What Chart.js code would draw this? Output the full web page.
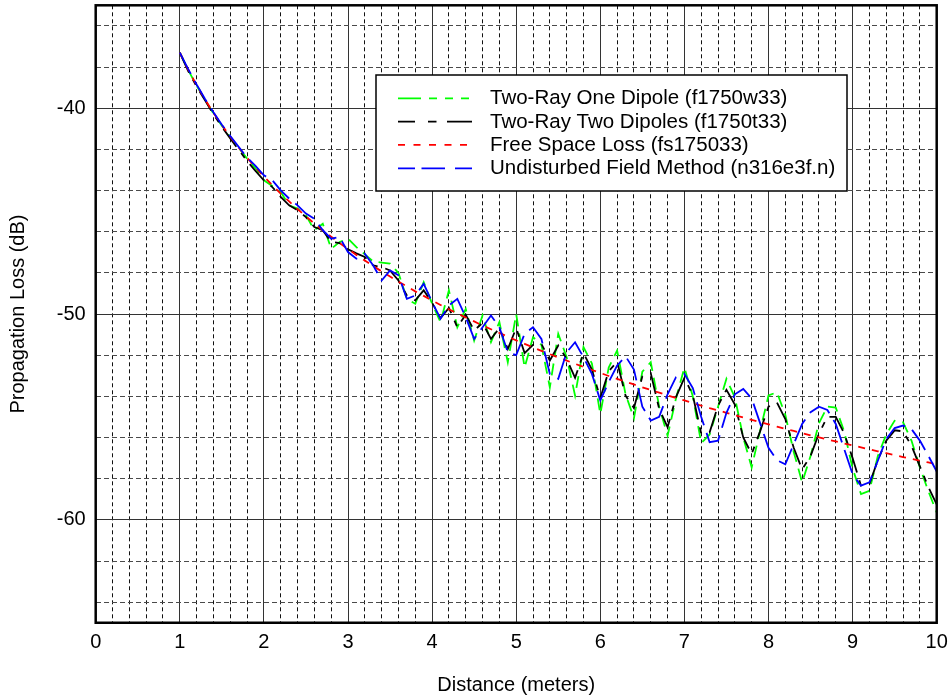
<!DOCTYPE html>
<html>
<head>
<meta charset="utf-8">
<title>Propagation Loss vs Distance</title>
<script src="https://cdn.jsdelivr.net/npm/chart.js"></script>
<style>
  html, body { margin: 0; padding: 0; background: #ffffff; }
  #wrap { width: 952px; height: 697px; position: relative; }
</style>
</head>
<body>
<div id="wrap"><canvas id="chart"></canvas></div>
<script>
// Distance from the transmitter (meters), sampled every 0.1 m
const distance = [
  1.0, 1.1, 1.2, 1.3, 1.4, 1.5, 1.6, 1.7, 1.8, 1.9,
  2.0, 2.1, 2.2, 2.3, 2.4, 2.5, 2.6, 2.7, 2.8, 2.9,
  3.0, 3.1, 3.2, 3.3, 3.4, 3.5, 3.6, 3.7, 3.8, 3.9,
  4.0, 4.1, 4.2, 4.3, 4.4, 4.5, 4.6, 4.7, 4.8, 4.9,
  5.0, 5.1, 5.2, 5.3, 5.4, 5.5, 5.6, 5.7, 5.8, 5.9,
  6.0, 6.1, 6.2, 6.3, 6.4, 6.5, 6.6, 6.7, 6.8, 6.9,
  7.0, 7.1, 7.2, 7.3, 7.4, 7.5, 7.6, 7.7, 7.8, 7.9,
  8.0, 8.1, 8.2, 8.3, 8.4, 8.5, 8.6, 8.7, 8.8, 8.9,
  9.0, 9.1, 9.2, 9.3, 9.4, 9.5, 9.6, 9.7, 9.8, 9.9,
  10.0
];

// Two-Ray One Dipole (f1750w33), dB
const oneDipole = [
  -37.30, -38.15, -38.90, -39.60, -40.25, -40.85, -41.40, -41.92, -42.45, -42.92,
  -43.50, -43.78, -44.07, -44.72, -44.88, -45.20, -45.93, -45.61, -46.83, -46.50,
  -46.34, -46.75, -47.10, -47.45, -47.50, -47.55, -48.00, -49.26, -49.50, -48.45,
  -49.50, -50.39, -48.85, -50.64, -49.75, -51.29, -50.07, -51.37, -50.39, -52.34,
  -50.00, -52.60, -51.12, -51.50, -53.56, -50.96, -52.10, -53.96, -51.61, -52.40,
  -54.86, -52.60, -51.77, -53.90, -55.06, -52.80, -52.34, -54.50, -55.91, -54.10,
  -52.60, -54.00, -56.27, -55.85, -54.50, -53.15, -54.05, -56.00, -57.45, -55.67,
  -53.96, -53.80, -54.90, -56.70, -58.18, -56.90, -55.30, -54.50, -54.55, -55.70,
  -57.50, -58.75, -58.59, -56.90, -55.85, -55.18, -55.26, -56.15, -57.45, -58.60,
  -59.64
];

// Two-Ray Two Dipoles (f1750t33), dB
const twoDipoles = [
  -37.30, -38.20, -38.95, -39.62, -40.30, -40.90, -41.47, -42.02, -42.56, -43.05,
  -43.50, -43.83, -44.31, -44.72, -44.96, -45.29, -45.77, -45.93, -46.50, -46.55,
  -46.85, -47.05, -47.23, -47.64, -47.72, -47.88, -48.37, -49.10, -49.34, -48.85,
  -49.45, -50.20, -49.70, -50.64, -50.03, -50.80, -50.43, -51.21, -50.68, -51.70,
  -50.68, -51.90, -51.50, -51.45, -52.26, -51.53, -52.18, -53.10, -51.90, -52.70,
  -54.08, -52.78, -52.32, -53.96, -54.57, -53.03, -52.87, -54.61, -55.50, -54.04,
  -53.10, -53.95, -55.80, -55.75, -54.45, -53.68, -54.40, -56.00, -56.80, -55.70,
  -54.50, -54.30, -55.10, -56.50, -57.55, -56.90, -55.80, -55.00, -55.00, -55.80,
  -57.00, -58.34, -58.26, -57.10, -56.15, -55.65, -55.70, -56.40, -57.40, -58.40,
  -59.25
];

// Free Space Loss (fs175033), dB
const freeSpace = [
  -37.30, -38.13, -38.88, -39.58, -40.22, -40.82, -41.38, -41.91, -42.41, -42.88,
  -43.32, -43.74, -44.15, -44.53, -44.90, -45.26, -45.60, -45.93, -46.24, -46.55,
  -46.84, -47.13, -47.40, -47.67, -47.93, -48.18, -48.43, -48.66, -48.90, -49.12,
  -49.34, -49.56, -49.77, -49.97, -50.17, -50.36, -50.56, -50.74, -50.92, -51.10,
  -51.28, -51.45, -51.62, -51.79, -51.95, -52.11, -52.26, -52.42, -52.57, -52.72,
  -52.86, -53.01, -53.15, -53.29, -53.42, -53.56, -53.69, -53.82, -53.95, -54.08,
  -54.20, -54.33, -54.45, -54.57, -54.68, -54.80, -54.92, -55.03, -55.14, -55.25,
  -55.36, -55.47, -55.58, -55.68, -55.79, -55.89, -55.99, -56.09, -56.19, -56.29,
  -56.38, -56.48, -56.58, -56.67, -56.76, -56.85, -56.95, -57.04, -57.12, -57.21,
  -57.30
];

// Undisturbed Field Method (n316e3f.n), dB
const undisturbed = [
  -37.30, -38.10, -38.85, -39.55, -40.20, -40.80, -41.35, -41.88, -42.40, -42.80,
  -43.26, -43.50, -43.99, -44.39, -44.72, -45.12, -45.37, -45.93, -46.34, -46.26,
  -46.99, -47.31, -47.07, -47.64, -48.37, -47.88, -48.12, -49.26, -49.10, -48.53,
  -49.42, -50.23, -49.58, -49.26, -50.15, -51.21, -50.64, -50.07, -50.64, -51.85,
  -52.00, -50.96, -50.64, -51.21, -52.91, -53.15, -51.86, -51.37, -52.10, -52.91,
  -54.20, -53.30, -52.50, -52.05, -52.70, -54.50, -55.18, -55.00, -53.90, -53.07,
  -52.91, -53.60, -55.00, -56.23, -56.15, -54.80, -53.90, -53.64, -54.10, -55.30,
  -56.50, -57.10, -57.30, -56.32, -55.34, -54.77, -54.50, -54.66, -55.34, -56.56,
  -57.78, -58.34, -58.18, -57.13, -56.07, -55.54, -55.42, -55.59, -56.15, -56.88,
  -57.65
];

const seriesNames = [
  'Two-Ray One Dipole (f1750w33)',
  'Two-Ray Two Dipoles (f1750t33)',
  'Free Space Loss (fs175033)',
  'Undisturbed Field Method (n316e3f.n)'
];

// Axis ticks: labelled major ticks plus minor grid steps
const xMajorTicks = [0, 1, 2, 3, 4, 5, 6, 7, 8, 9, 10];
const xTickLabels = ['0', '1', '2', '3', '4', '5', '6', '7', '8', '9', '10'];
const yMajorTicks = [-60, -50, -40];
const yTickLabels = ['-60', '-50', '-40'];
const xMinorStep = 0.2;
const yMinorStep = 2;

const FONT = "'Liberation Sans', Arial, Helvetica, sans-serif";
Chart.defaults.font.family = FONT;
Chart.defaults.font.size = 20;
Chart.defaults.color = '#000';

function gridValues(min, max, step) {
  const n = Math.round((max - min) / step);
  const out = [];
  for (let i = 0; i <= n; i++) out.push(+(min + i * step).toFixed(6));
  return out;
}
const xGrid = gridValues(0, 10, xMinorStep);
const yGrid = gridValues(-64, -36, yMinorStep);

const isMajorX = v => xMajorTicks.includes(v);
const isMajorY = v => yMajorTicks.includes(v);

function toPoints(values) {
  return distance.map((d, i) => ({ x: d, y: values[i] }));
}

// Heavy frame around the plotting area
const framePlugin = {
  id: 'plotFrame',
  afterDatasetsDraw(chart) {
    const { ctx, chartArea: a } = chart;
    ctx.save();
    ctx.strokeStyle = '#000';
    ctx.lineWidth = 2.5;
    ctx.setLineDash([]);
    ctx.strokeRect(a.left, a.top, a.right - a.left, a.bottom - a.top);
    ctx.restore();
  }
};

// Boxed legend placed inside the plotting area
const boxLegendPlugin = {
  id: 'boxLegend',
  afterDraw(chart, args, o) {
    const ctx = chart.ctx;
    ctx.save();
    ctx.fillStyle = '#fff';
    ctx.fillRect(o.left, o.top, o.width, o.height);
    ctx.strokeStyle = '#000';
    ctx.lineWidth = 1.5;
    ctx.setLineDash([]);
    ctx.strokeRect(o.left, o.top, o.width, o.height);
    chart.data.datasets.forEach((ds, i) => {
      const y = o.firstRow + i * o.rowGap;
      ctx.beginPath();
      ctx.setLineDash(o.sampleDash[i]);
      ctx.strokeStyle = ds.borderColor;
      ctx.lineWidth = ds.borderWidth;
      ctx.moveTo(o.sampleStart, y);
      ctx.lineTo(o.sampleEnd, y);
      ctx.stroke();
      ctx.setLineDash([]);
      ctx.fillStyle = '#000';
      ctx.font = o.fontSize + 'px ' + FONT;
      ctx.textAlign = 'left';
      ctx.textBaseline = 'alphabetic';
      ctx.fillText(ds.label, o.textX, y + o.baselineShift);
    });
    ctx.restore();
  }
};

const lineStyle = (color, dash, order) => ({
  borderColor: color,
  backgroundColor: color,
  borderWidth: 1.8,
  borderDash: dash,
  pointRadius: 0,
  pointHoverRadius: 0,
  tension: 0,
  fill: false,
  order: order
});

new Chart(document.getElementById('chart'), {
  type: 'line',
  data: {
    datasets: [
      Object.assign({ label: seriesNames[0], data: toPoints(oneDipole) }, lineStyle('#00ff00', [12, 7], 4)),
      Object.assign({ label: seriesNames[1], data: toPoints(twoDipoles) }, lineStyle('#000000', [22, 8, 6, 8], 3)),
      Object.assign({ label: seriesNames[2], data: toPoints(freeSpace) }, lineStyle('#ff0000', [7, 7], 2)),
      Object.assign({ label: seriesNames[3], data: toPoints(undisturbed) }, lineStyle('#0000ff', [24, 8], 1))
    ]
  },
  options: {
    responsive: true,
    maintainAspectRatio: false,
    animation: false,
    devicePixelRatio: 1,
    layout: { padding: { left: 0, top: 5.3, right: 15.3, bottom: 0 } },
    plugins: {
      legend: { display: false },
      tooltip: { enabled: false },
      boxLegend: {
        left: 376, top: 75, width: 471, height: 116,
        firstRow: 98.3, rowGap: 23.33,
        sampleStart: 398, sampleEnd: 472,
        sampleDash: [[23, 8, 8, 8, 8, 8, 8, 8], [17, 13, 8.5, 10.5, 30], [7, 8.5], [17, 6.5, 23.5, 10, 20]],
        textX: 490, baselineShift: 6, fontSize: 20.5
      }
    },
    scales: {
      x: {
        type: 'linear',
        min: 0,
        max: 10,
        afterBuildTicks: s => { s.ticks = xGrid.map(v => ({ value: v })); },
        afterFit: s => { s.height = 74.25; s.paddingLeft = 0; s.paddingRight = 0; },
        ticks: {
          autoSkip: false,
          maxRotation: 0,
          minRotation: 0,
          padding: 8,
          color: '#000',
          font: { size: 20 },
          callback: v => { const k = xMajorTicks.indexOf(v); return k >= 0 ? xTickLabels[k] : ''; }
        },
        grid: {
          drawTicks: false,
          color: c => (c.tick && isMajorX(c.tick.value)) ? '#333333' : '#111111',
          lineWidth: 1
        },
        border: {
          display: false,
          dash: c => (c.tick && !isMajorX(c.tick.value)) ? [4, 3] : []
        },
        title: {
          display: true,
          text: 'Distance (meters)',
          color: '#000',
          font: { size: 20 },
          padding: { top: 0, bottom: 0 }
        }
      },
      y: {
        type: 'linear',
        min: -65,
        max: -35,
        afterBuildTicks: s => { s.ticks = yGrid.map(v => ({ value: v })); },
        afterFit: s => { s.width = 95.7; s.paddingTop = 0; s.paddingBottom = 0; },
        ticks: {
          autoSkip: false,
          padding: 10,
          color: '#000',
          font: { size: 20 },
          callback: v => { const k = yMajorTicks.indexOf(v); return k >= 0 ? yTickLabels[k] : ''; }
        },
        grid: {
          drawTicks: false,
          color: c => (c.tick && isMajorY(c.tick.value)) ? '#333333' : '#4a4a4a',
          lineWidth: 1
        },
        border: {
          display: false,
          dash: c => (c.tick && !isMajorY(c.tick.value)) ? [5, 3] : []
        },
        title: {
          display: true,
          text: 'Propagation Loss (dB)',
          color: '#000',
          font: { size: 20 },
          padding: { top: 6, bottom: 0 }
        }
      }
    }
  },
  plugins: [framePlugin, boxLegendPlugin]
});
</script>
</body>
</html>
